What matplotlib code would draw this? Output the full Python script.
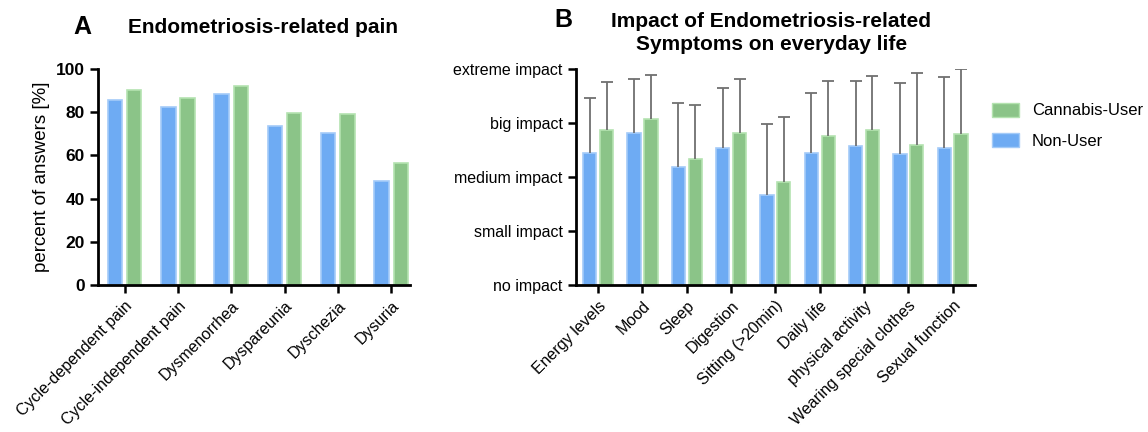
import numpy as np
import matplotlib
matplotlib.use("Agg")
import matplotlib.pyplot as plt
from matplotlib.patches import Patch

plt.rcParams["font.family"] = ["Liberation Sans", "DejaVu Sans"]

BLUE = "#6eabf3"
BLUE_EDGE = "#a4cbf8"
GREEN = "#8bc488"
GREEN_EDGE = "#b4e3b0"
ERR = "#707070"

# panel A
pain_labels = ["Cycle-dependent pain", "Cycle-independent pain", "Dysmenorrhea",
               "Dyspareunia", "Dyschezia", "Dysuria"]
pain_non_user = [85.6, 82.3, 88.4, 73.6, 70.4, 48.0]
pain_cannabis = [90.1, 86.7, 92.1, 79.8, 79.0, 56.6]

# panel B (0 = no impact ... 4 = extreme impact)
impact_labels = ["Energy levels", "Mood", "Sleep", "Digestion", "Sitting (>20min)",
                 "Daily life", "physical activity", "Wearing special clothes",
                 "Sexual function"]
impact_ticks = ["no impact", "small impact", "medium impact", "big impact", "extreme impact"]
impact_non_user = [2.45, 2.81, 2.18, 2.54, 1.66, 2.45, 2.57, 2.43, 2.54]
impact_non_user_sd = [1.01, 1.00, 1.20, 1.11, 1.32, 1.11, 1.21, 1.32, 1.31]
impact_cannabis = [2.87, 3.08, 2.33, 2.81, 1.91, 2.76, 2.87, 2.60, 2.79]
impact_cannabis_sd = [0.90, 0.81, 1.01, 1.00, 1.20, 1.02, 1.01, 1.32, 1.21]

fig = plt.figure(figsize=(11.48, 4.32), dpi=100)
axA = fig.add_axes([0.0854, 0.3403, 0.2716, 0.4997])
axB = fig.add_axes([0.5017, 0.3403, 0.3475, 0.4997])


def style_axes(ax):
    for s in ["top", "right"]:
        ax.spines[s].set_visible(False)
    for s in ["left", "bottom"]:
        ax.spines[s].set_linewidth(2)
    ax.tick_params(axis="both", direction="out", length=6, width=1.8, labelsize=11.5)


def upper_only(container):
    # hide the cap drawn at the bar top (lower error is zero)
    caps = container.errorbar.lines[1]
    if len(caps) > 1:
        caps[0].set_visible(False)


# A
x = np.arange(len(pain_labels))
w = 0.27
off = 0.18
axA.bar(x - off, pain_non_user, w, color=BLUE, edgecolor=BLUE_EDGE, linewidth=1.2)
axA.bar(x + off, pain_cannabis, w, color=GREEN, edgecolor=GREEN_EDGE, linewidth=1.2)
axA.set_xlim(-0.5, 5.35)
axA.set_ylim(0, 100)
axA.set_yticks([0, 20, 40, 60, 80, 100])
style_axes(axA)
for t in axA.get_yticklabels():
    t.set_fontweight("bold")
    t.set_fontsize(12.5)
axA.set_xticks(x)
axA.set_xticklabels(pain_labels, rotation=45, ha="right", rotation_mode="anchor")
axA.set_ylabel("percent of answers [%]", fontsize=13.5)
fig.text(0.229, 0.937, "Endometriosis-related pain", fontsize=15, fontweight="bold",
         ha="center", va="center")
fig.text(0.072, 0.937, "A", fontsize=18, fontweight="bold", ha="center", va="center")

# B
xb = np.arange(len(impact_labels))
wb = 0.3
offb = 0.19
b1 = axB.bar(xb - offb, impact_non_user, wb, color=BLUE, edgecolor=BLUE_EDGE, linewidth=1.2,
             yerr=[np.zeros(len(xb)), impact_non_user_sd], ecolor=ERR,
             error_kw=dict(elinewidth=1.3, capsize=4, capthick=1.3))
b2 = axB.bar(xb + offb, impact_cannabis, wb, color=GREEN, edgecolor=GREEN_EDGE, linewidth=1.2,
             yerr=[np.zeros(len(xb)), impact_cannabis_sd], ecolor=ERR,
             error_kw=dict(elinewidth=1.3, capsize=4, capthick=1.3))
upper_only(b1)
upper_only(b2)
axB.set_xlim(-0.5, 8.5)
axB.set_ylim(0, 4)
axB.set_yticks(range(5))
axB.set_yticklabels(impact_ticks)
style_axes(axB)
axB.set_xticks(xb)
axB.set_xticklabels(impact_labels, rotation=45, ha="right", rotation_mode="anchor")
fig.text(0.672, 0.923, "Impact of Endometriosis-related\nSymptoms on everyday life",
         fontsize=15, fontweight="bold", ha="center", va="center", linespacing=1.25)
fig.text(0.491, 0.953, "B", fontsize=18, fontweight="bold", ha="center", va="center")

handles = [Patch(facecolor=GREEN, edgecolor=GREEN_EDGE, label="Cannabis-User"),
           Patch(facecolor=BLUE, edgecolor=BLUE_EDGE, label="Non-User")]
fig.legend(handles=handles, loc="upper left", bbox_to_anchor=(0.851, 0.797),
           frameon=False, fontsize=12, handlelength=1.6, handleheight=0.9,
           labelspacing=0.9)

fig.savefig("out.png", dpi=100)
